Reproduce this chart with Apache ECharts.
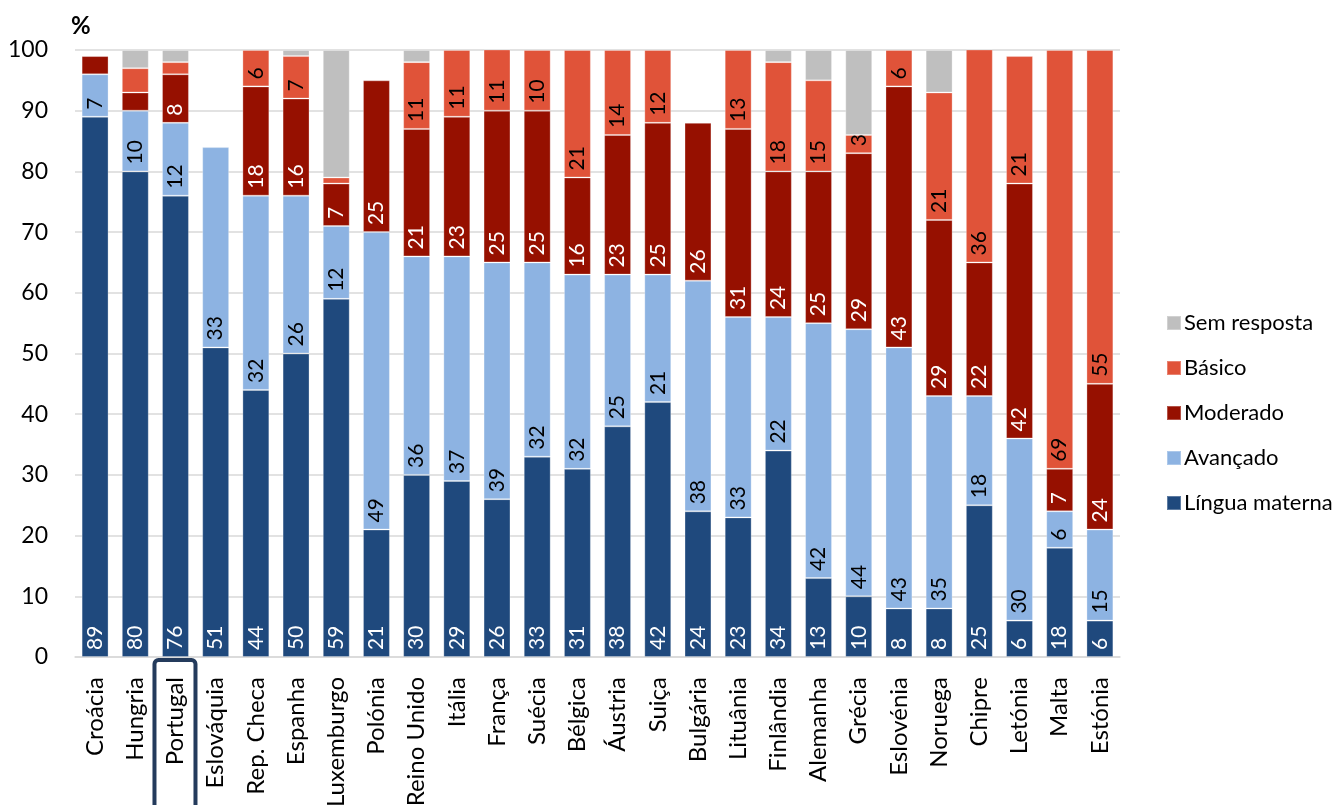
<!DOCTYPE html>
<html>
<head>
<meta charset="utf-8">
<script src="https://cdn.jsdelivr.net/npm/echarts@6/dist/echarts.min.js"></script>
<style>
  html, body { margin: 0; padding: 0; background: #ffffff; }
  #chart { width: 1334px; height: 805px; }
</style>
</head>
<body>
<div id="chart"></div>
<script>
// Proficiência linguística por país (%), barras empilhadas
const countries = ['Croácia', 'Hungria', 'Portugal', 'Eslováquia', 'Rep. Checa', 'Espanha', 'Luxemburgo',
  'Polónia', 'Reino Unido', 'Itália', 'França', 'Suécia', 'Bélgica', 'Áustria', 'Suiça', 'Bulgária',
  'Lituânia', 'Finlândia', 'Alemanha', 'Grécia', 'Eslovénia', 'Noruega', 'Chipre', 'Letónia', 'Malta', 'Estónia'];

const linguaMaterna = [89, 80, 76, 51, 44, 50, 59, 21, 30, 29, 26, 33, 31, 38, 42, 24, 23, 34, 13, 10, 8, 8, 25, 6, 18, 6];
const avancado      = [7, 10, 12, 33, 32, 26, 12, 49, 36, 37, 39, 32, 32, 25, 21, 38, 33, 22, 42, 44, 43, 35, 18, 30, 6, 15];
const moderado      = [3, 3, 8, 0, 18, 16, 7, 25, 21, 23, 25, 25, 16, 23, 25, 26, 31, 24, 25, 29, 43, 29, 22, 42, 7, 24];
const basico        = [0, 4, 2, 0, 6, 7, 1, 0, 11, 11, 11, 10, 21, 14, 12, 0, 13, 18, 15, 3, 6, 21, 36, 21, 69, 55];
const semResposta   = [0, 3, 2, 0, 1, 1, 21, 0, 2, 0, 0, 1, 0, 0, 1, 0, 0, 2, 5, 14, 0, 7, 0, 0, 0, 0];

// segmentos sem rótulo de valor
const moderadoSemRotulo = ['Croácia', 'Hungria'];
const basicoSemRotulo = ['Hungria', 'Portugal', 'Luxemburgo'];

const destaque = 'Portugal';

const FONT = 'Lato';
const colors = {
  lingua: '#1f497d',
  avancado: '#8db3e2',
  moderado: '#961000',
  basico: '#e05339',
  sem: '#bfbfbf'
};

function makeData(values, hidden) {
  return values.map((v, i) => {
    if (!v) return null;
    const item = { value: v };
    if (hidden && hidden.indexOf(countries[i]) >= 0) item.label = { show: false };
    return item;
  });
}

function barSeries(name, values, color, textColor, showLabel, hidden) {
  return {
    name: name,
    type: 'bar',
    stack: 'total',
    barWidth: '67%',
    clip: true,
    data: makeData(values, hidden),
    itemStyle: { color: color, borderColor: 'rgba(255,255,255,0.28)', borderWidth: 1 },
    label: {
      show: showLabel,
      position: 'insideBottom',
      distance: 7,
      rotate: 90,
      align: 'left',
      verticalAlign: 'middle',
      color: textColor,
      fontFamily: FONT,
      fontSize: 21
    },
    emphasis: { disabled: true }
  };
}

const chart = echarts.init(document.getElementById('chart'), null, { renderer: 'canvas' });

const option = {
  animation: false,
  backgroundColor: '#ffffff',
  title: {
    text: '%',
    left: 66,
    top: 9,
    textStyle: { fontFamily: FONT, fontWeight: 'bold', fontSize: 24, color: '#000' }
  },
  grid: { left: 75, right: 214, top: 50, bottom: 148, containLabel: false, outerBoundsMode: 'none' },
  legend: {
    orient: 'vertical',
    left: 1161,
    top: 307,
    itemWidth: 14,
    itemHeight: 14,
    itemGap: 23,
    icon: 'rect',
    data: ['Sem resposta', 'Básico', 'Moderado', 'Avançado', 'Língua materna'],
    textStyle: { fontFamily: FONT, fontSize: 22, color: '#000', padding: [0, 0, 0, -2] },
    selectedMode: false
  },
  xAxis: {
    type: 'category',
    data: countries,
    axisLine: { lineStyle: { color: '#d9d9d9', width: 1.5 } },
    axisTick: { show: false },
    axisLabel: {
      rotate: 90,
      interval: 0,
      margin: 20,
      fontFamily: FONT,
      fontSize: 24,
      color: '#000'
    }
  },
  yAxis: {
    type: 'value',
    min: 0,
    max: 100,
    interval: 10,
    axisLine: { show: false },
    axisTick: { show: false },
    splitLine: { lineStyle: { color: '#d9d9d9', width: 1.5 } },
    axisLabel: { margin: 27, fontFamily: FONT, fontSize: 23, color: '#000' }
  },
  series: [
    barSeries('Língua materna', linguaMaterna, colors.lingua, '#ffffff', true),
    barSeries('Avançado', avancado, colors.avancado, '#000000', true),
    barSeries('Moderado', moderado, colors.moderado, '#ffffff', true, moderadoSemRotulo),
    barSeries('Básico', basico, colors.basico, '#000000', true, basicoSemRotulo),
    barSeries('Sem resposta', semResposta, colors.sem, '#000000', false)
  ]
};

chart.setOption(option);

// moldura em torno do rótulo do país em destaque
const cx = chart.convertToPixel({ xAxisIndex: 0 }, destaque);
const y0 = chart.convertToPixel({ yAxisIndex: 0 }, 0);
chart.setOption({
  graphic: [{
    type: 'rect',
    shape: { x: cx - 21, y: y0 + 3, width: 41, height: 170, r: 4 },
    style: { fill: 'none', stroke: '#243b5c', lineWidth: 4 },
    silent: true,
    z: 10
  }]
});
</script>
</body>
</html>
